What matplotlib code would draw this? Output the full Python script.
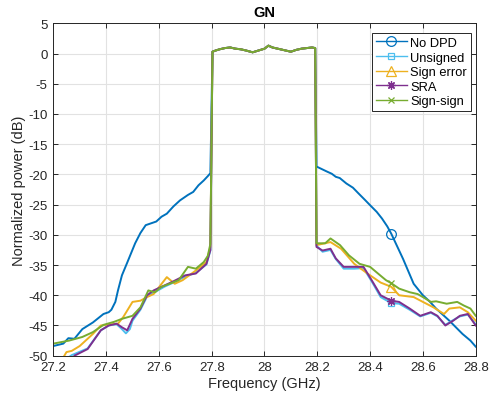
import matplotlib
matplotlib.use("Agg")
import matplotlib.pyplot as plt
from matplotlib.lines import Line2D
import numpy as np

plt.rcParams["font.family"] = ["Liberation Sans", "DejaVu Sans"]
plt.rcParams["axes.unicode_minus"] = False

# shared passband (all curves overlap here)
pass_freq = [27.803, 27.815, 27.83, 27.85, 27.87, 27.89, 27.91, 27.93, 27.955, 27.97, 27.985,
             28.0, 28.015, 28.03, 28.05, 28.07, 28.09, 28.10, 28.12, 28.14, 28.16, 28.18, 28.192]
pass_power = [0.3, 0.5, 0.7, 0.9, 1.0, 0.8, 0.7, 0.5, 0.2, 0.4, 0.6,
              0.8, 1.3, 1.0, 0.8, 0.6, 0.4, 0.3, 0.6, 0.8, 0.9, 1.0, 0.9]

nodpd_left_f = [27.2, 27.238, 27.257, 27.28, 27.31, 27.35, 27.39, 27.41, 27.42, 27.435, 27.445,
                27.46, 27.48, 27.51, 27.53, 27.55, 27.57, 27.59, 27.61, 27.63, 27.655, 27.68,
                27.71, 27.73, 27.75, 27.77, 27.785, 27.795]
nodpd_left_p = [-48.4, -48.0, -47.1, -47.2, -45.6, -44.5, -43.1, -42.8, -42.4, -41.1, -39.2,
                -36.7, -34.6, -31.4, -29.7, -28.4, -28.1, -27.8, -27.0, -26.5, -25.3, -24.3,
                -23.4, -22.9, -21.8, -21.0, -20.3, -19.8]
nodpd_right_f = [28.197, 28.235, 28.255, 28.27, 28.285, 28.31, 28.335, 28.355, 28.38, 28.40,
                 28.425, 28.445, 28.465, 28.48, 28.525, 28.565, 28.60, 28.625, 28.65, 28.70,
                 28.75, 28.78, 28.8]
nodpd_right_p = [-18.7, -19.5, -19.9, -20.4, -20.6, -21.5, -22.2, -23.1, -24.2, -25.1,
                 -26.2, -27.3, -28.6, -29.8, -34.0, -38.1, -40.0, -41.0, -42.2, -44.2,
                 -46.4, -47.5, -48.5]

unsigned_left_f = [27.25, 27.27, 27.33, 27.38, 27.41, 27.44, 27.46, 27.475, 27.49, 27.50, 27.53,
                   27.555, 27.58, 27.62, 27.65, 27.70, 27.74, 27.78, 27.795]
unsigned_left_p = [-50.5, -49.9, -48.8, -45.8, -45.0, -44.8, -45.6, -46.3, -45.6, -44.2, -42.4,
                   -40.2, -39.6, -38.6, -38.0, -36.9, -36.3, -34.9, -32.6]
unsigned_right_f = [28.197, 28.22, 28.25, 28.27, 28.30, 28.34, 28.375, 28.41, 28.44, 28.48, 28.51,
                    28.55, 28.59, 28.63, 28.655, 28.685, 28.715, 28.74, 28.77, 28.8]
unsigned_right_p = [-31.8, -32.8, -32.5, -34.0, -35.6, -35.6, -35.5, -38.0, -40.3, -41.3, -41.4,
                    -42.4, -43.5, -42.9, -43.5, -44.9, -44.1, -43.5, -43.2, -44.8]

signerr_left_f = [27.235, 27.25, 27.27, 27.30, 27.35, 27.38, 27.42, 27.445, 27.465, 27.50, 27.53,
                  27.555, 27.58, 27.63, 27.66, 27.69, 27.74, 27.78, 27.795]
signerr_left_p = [-50.5, -49.4, -49.2, -48.4, -46.4, -45.0, -44.8, -44.7, -43.6, -41.1, -40.9,
                  -40.3, -39.8, -37.0, -38.1, -37.5, -35.9, -34.5, -32.0]
signerr_right_f = [28.197, 28.25, 28.29, 28.34, 28.39, 28.44, 28.48, 28.51, 28.565, 28.60, 28.64,
                   28.68, 28.70, 28.74, 28.77, 28.8]
signerr_right_p = [-31.7, -31.2, -32.3, -34.8, -36.4, -37.9, -38.6, -40.0, -40.3, -41.1, -42.0,
                   -43.1, -42.2, -42.0, -42.8, -44.2]

sra_left_f = [27.275, 27.28, 27.33, 27.38, 27.41, 27.44, 27.46, 27.48, 27.50, 27.53, 27.555, 27.58,
              27.62, 27.65, 27.70, 27.74, 27.78, 27.795]
sra_left_p = [-50.5, -50.0, -48.9, -45.8, -45.0, -44.7, -45.3, -45.8, -43.9, -42.2, -40.0, -39.2,
              -38.4, -37.8, -36.7, -36.4, -34.8, -32.5]
sra_right_f = [28.197, 28.22, 28.25, 28.27, 28.30, 28.34, 28.375, 28.41, 28.44, 28.48, 28.51,
               28.55, 28.59, 28.63, 28.655, 28.685, 28.715, 28.74, 28.77, 28.8]
sra_right_p = [-32.0, -32.6, -32.3, -33.9, -35.3, -35.3, -35.3, -37.8, -40.0, -40.9, -41.1,
               -42.2, -43.4, -42.8, -43.4, -45.0, -44.2, -43.4, -43.1, -45.0]

signsign_left_f = [27.2, 27.26, 27.31, 27.35, 27.39, 27.43, 27.46, 27.50, 27.53, 27.56, 27.585,
                   27.61, 27.64, 27.675, 27.71, 27.74, 27.77, 27.785, 27.795]
signsign_left_p = [-48.0, -47.5, -46.9, -46.1, -44.9, -44.4, -43.9, -43.4, -42.0, -39.2, -39.5,
                   -38.6, -38.1, -37.5, -35.3, -35.6, -34.5, -33.5, -31.5]
signsign_right_f = [28.197, 28.23, 28.25, 28.286, 28.32, 28.36, 28.40, 28.438, 28.46, 28.48, 28.51,
                    28.55, 28.58, 28.60, 28.63, 28.65, 28.69, 28.73, 28.755, 28.78, 28.8]
signsign_right_p = [-31.4, -31.4, -30.6, -31.7, -33.4, -34.8, -35.3, -36.7, -37.5, -38.0, -38.9,
                    -39.5, -39.8, -40.3, -41.1, -41.0, -41.4, -41.1, -41.7, -42.2, -43.4]

labels = ["No DPD", "Unsigned", "Sign error", "SRA", "Sign-sign"]
marker_freq = 28.48

series = [
    (nodpd_left_f, nodpd_left_p, nodpd_right_f, nodpd_right_p),
    (unsigned_left_f, unsigned_left_p, unsigned_right_f, unsigned_right_p),
    (signerr_left_f, signerr_left_p, signerr_right_f, signerr_right_p),
    (sra_left_f, sra_left_p, sra_right_f, sra_right_p),
    (signsign_left_f, signsign_left_p, signsign_right_f, signsign_right_p),
]
colors = ["#0072BD", "#4DBEEE", "#EDB120", "#7E2F8E", "#77AC30"]
markers = ["o", "s", "^", (8, 2, 0), "x"]
msizes = [7, 5, 7, 6, 5]

fig = plt.figure(figsize=(4.97, 4.02), dpi=100)
ax = fig.add_axes([53.3 / 497, 1 - 356.7 / 402, (475.7 - 53.3) / 497, (356.7 - 24.3) / 402])

handles = []
for (lf, lp, rf, rp), label, color, mk, ms in zip(series, labels, colors, markers, msizes):
    freq = np.array(lf + pass_freq + rf)
    power = np.array(lp + pass_power + rp)
    idx = int(np.argmin(np.abs(freq - marker_freq)))
    ax.plot(freq, power, color=color, lw=1.4, marker=mk, markevery=[idx],
            markersize=ms, markerfacecolor="none", markeredgecolor=color, markeredgewidth=0.9)
    handles.append(Line2D([], [], color=color, lw=1.0, marker=mk, markersize=ms,
                          markerfacecolor="none", markeredgecolor=color, markeredgewidth=0.9,
                          label=label))

ax.set_xlim(27.2, 28.8)
ax.set_ylim(-50, 5)
ax.set_xticks(np.arange(27.2, 28.81, 0.2))
ax.set_xticklabels(["27.2", "27.4", "27.6", "27.8", "28", "28.2", "28.4", "28.6", "28.8"])
ax.set_yticks(np.arange(-50, 6, 5))
ax.grid(True, color="#e2e2e2", lw=0.8)
ax.set_axisbelow(True)
for s in ax.spines.values():
    s.set_color("#262626")
    s.set_linewidth(0.7)
ax.tick_params(direction="in", length=3.5, width=0.7, top=True, right=True,
               labelsize=9.5, colors="#262626", pad=4)

ax.set_xlabel("Frequency (GHz)", fontsize=10.5, color="#262626", labelpad=2)
ax.set_ylabel("Normalized power (dB)", fontsize=10.5, color="#262626", labelpad=2)
ax.set_title("GN", fontsize=10.5, fontweight="bold", color="black", pad=5)

leg = ax.legend(handles=handles, loc="upper right", fontsize=9.3, fancybox=False,
                framealpha=1, edgecolor="#262626", handlelength=2.4, handletextpad=0.3,
                borderpad=0.3, labelspacing=0.2, borderaxespad=0,
                bbox_to_anchor=(471 / 497, 1 - 34 / 402), bbox_transform=fig.transFigure)
leg.get_frame().set_linewidth(0.7)

fig.savefig("out.png", dpi=100)
